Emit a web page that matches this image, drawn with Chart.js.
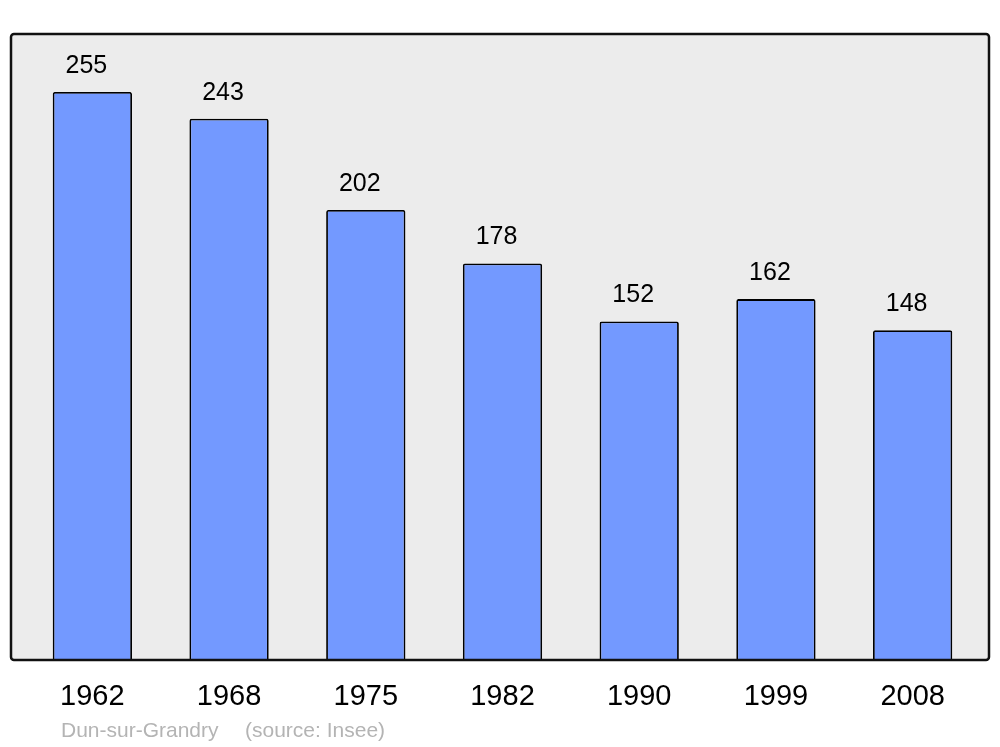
<!DOCTYPE html>
<html>
<head>
<meta charset="utf-8">
<script src="https://cdn.jsdelivr.net/npm/chart.js@4/dist/chart.umd.min.js"></script>
<style>
  html, body { margin: 0; padding: 0; background: #fff; }
  #wrap { width: 1000px; height: 747px; position: relative; }
</style>
</head>
<body>
<div id="wrap"><canvas id="chart" width="1000" height="747"></canvas></div>
<script>
// --- Data
const years = ["1962", "1968", "1975", "1982", "1990", "1999", "2008"];
const population = [255, 243, 202, 178, 152, 162, 148];
const townName = "Dun-sur-Grandry";
const sourceNote = "(source: Insee)";

const FONT = "'Liberation Sans', Arial, sans-serif";

// grey panel behind the bars (a bit wider than the chart area, like the original)
const panelPlugin = {
  id: "panel",
  beforeDraw(chart){
    const { ctx, chartArea: a } = chart;
    const x0 = a.left - 13, x1 = a.right + 8;
    ctx.save();
    ctx.beginPath();
    ctx.roundRect(x0, a.top, x1 - x0, a.bottom - a.top, 3);
    ctx.fillStyle = "#ececec";
    ctx.fill();
    ctx.restore();
  },
  afterDatasetsDraw(chart){
    const { ctx, chartArea: a } = chart;
    const x0 = a.left - 13, x1 = a.right + 8;
    ctx.save();
    ctx.beginPath();
    ctx.roundRect(x0, a.top, x1 - x0, a.bottom - a.top, 3);
    ctx.lineWidth = 2.5;
    ctx.strokeStyle = "#111";
    ctx.stroke();
    ctx.restore();
  }
};

// numbers above each bar (sit a little left of centre in the original)
const valueLabels = {
  id: "valueLabels",
  afterDatasetsDraw(chart){
    const { ctx } = chart;
    const meta = chart.getDatasetMeta(0);
    ctx.save();
    ctx.font = `25px ${FONT}`;
    ctx.fillStyle = "#000";
    ctx.textAlign = "center";
    ctx.textBaseline = "middle";
    meta.data.forEach((bar, i) => {
      ctx.fillText(String(population[i]), bar.x - 6, bar.y - 26);
    });
    ctx.restore();
  }
};

// town + source line under the axis
const footNote = {
  id: "footNote",
  afterDraw(chart){
    const { ctx } = chart;
    ctx.save();
    ctx.font = `21px ${FONT}`;
    ctx.fillStyle = "#b4b4b4";
    ctx.textAlign = "left";
    ctx.textBaseline = "middle";
    ctx.fillText(townName, 61, 731);
    ctx.fillText(sourceNote, 245, 731);
    ctx.restore();
  }
};

new Chart(document.getElementById("chart"), {
  type: "bar",
  data: {
    labels: years,
    datasets: [{
      data: population,
      backgroundColor: "#7399ff",
      borderColor: "#000",
      borderWidth: 1.8,
      borderSkipped: "bottom",
      borderRadius: 2,
      barPercentage: 0.58,
      categoryPercentage: 1
    }]
  },
  options: {
    responsive: false,
    animation: false,
    devicePixelRatio: 1,
    layout: { padding: { left: 24, right: 19, top: 34, bottom: 0 } },
    plugins: { legend: { display: false }, tooltip: { enabled: false } },
    scales: {
      x: {
        grid: { display: false, drawTicks: false },
        border: { display: false },
        ticks: { color: "#000", font: { family: FONT, size: 29 }, padding: 20 },
        afterFit: s => { s.height = 87; }
      },
      y: {
        display: false,
        min: 0,
        max: 281
      }
    }
  },
  plugins: [panelPlugin, valueLabels, footNote]
});
</script>
</body>
</html>
